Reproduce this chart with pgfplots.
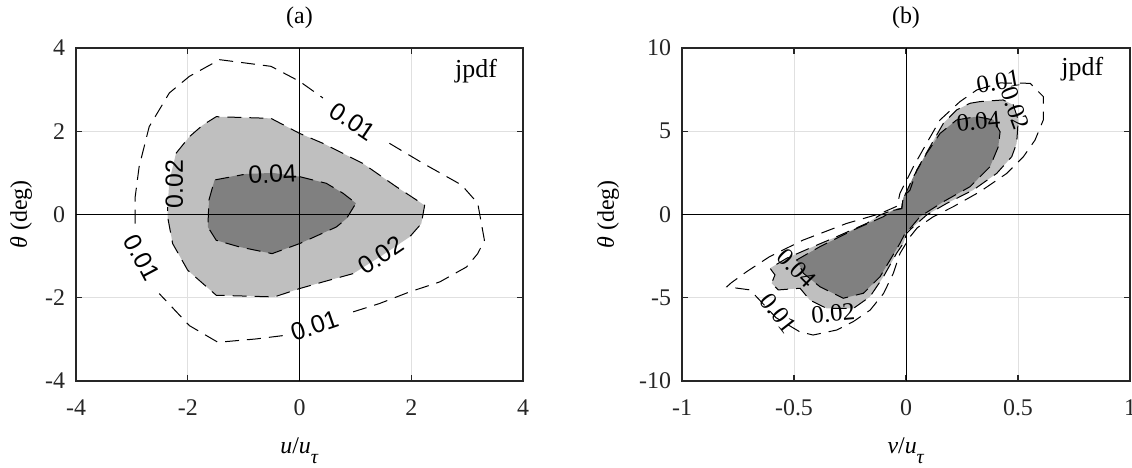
\documentclass[border=0pt]{standalone}
\usepackage{fontspec}
\setmainfont{Liberation Serif}
\newfontfamily\arial{Liberation Sans}
\usepackage{pgfplots}
\pgfplotsset{compat=1.18}
\definecolor{lightfill}{RGB}{191,191,191}
\definecolor{darkfill}{RGB}{128,128,128}
\definecolor{axcol}{RGB}{38,38,38}
\pgfplotsset{
  myax/.style={
    scale only axis, height=166.5bp,
    axis line style={axcol, line width=0.8bp},
    tick style={axcol, line width=0.6bp},
    tick align=inside, major tick length=3bp,
    grid=major, major grid style={black!12, line width=0.5bp},
    ticklabel style={font=\fontsize{12}{14}\selectfont, text=axcol},
    xticklabel style={yshift=-6bp},
    yticklabel style={xshift=-2bp},
    unbounded coords=jump,
    every axis title/.style={at={(axis description cs:0.5,1)}, anchor=center, yshift=15bp, font=\fontsize{12}{14}\selectfont},
    every axis x label/.style={at={(axis description cs:0.5,0)}, anchor=base, yshift=-36bp, font=\fontsize{12}{14}\selectfont},
    every axis y label/.style={at={(axis description cs:0,0.5)}, rotate=90, anchor=center, font=\fontsize{12}{14}\selectfont},
  },
  dsh/.style={black, line width=0.5bp, dash pattern=on 7bp off 4bp},
}
\begin{document}
\begin{tikzpicture}
\useasboundingbox (0,0) rectangle (566bp,234bp);
% ---------------- panel (a) ----------------
\begin{axis}[myax, at={(38bp,43.5bp)}, anchor=south west, width=223.5bp,
  xmin=-4, xmax=4, ymin=-4, ymax=4,
  xtick={-4,-2,0,2,4}, xticklabels={-4,-2,0,2,4},
  ytick={-4,-2,0,2,4}, yticklabels={-4,-2,0,2,4},
  title={(a)},
  xlabel={\textit{u}/\textit{u}\raisebox{-5bp}{\fontsize{10}{10}\selectfont\textit{τ}}},
  ylabel={\textit{θ} (deg)},
  y label style={yshift=27.5bp}]
\addplot[fill=lightfill, draw=none] coordinates {
(-2.21,1.47) (-1.97,1.87) (-1.73,2.15) (-1.49,2.35) (-0.51,2.31) (0,1.95) (0.42,1.71)
(1.13,1.23) (1.73,0.67) (2.24,0.22) (2.18,-0.22) (1.97,-0.54) (1.46,-1.0) (0.96,-1.42)
(0.42,-1.62) (0,-1.78) (-0.45,-1.98) (-1.49,-1.94) (-2.0,-1.34) (-2.27,-0.70)
(-2.36,-0.06) (-2.36,0.18) (-2.33,0.8)} -- cycle;
\addplot[fill=darkfill, draw=none] coordinates {
(0,0.91) (0.48,0.75) (0.78,0.51) (1.01,0.27) (0.84,-0.10) (0.66,-0.30) (0,-0.70)
(-0.49,-0.94) (-1.07,-0.78) (-1.49,-0.62) (-1.64,-0.30) (-1.62,0.35) (-1.52,0.83)
(-1.01,0.97) (-0.48,1.0)} -- cycle;
% 0.02 contour line
\addplot[dsh] coordinates {
(-2.21,1.47) (-1.97,1.87) (-1.73,2.15) (-1.49,2.35) (-0.51,2.31) (0,1.95) (0.42,1.71)
(1.13,1.23) (1.73,0.67) (2.24,0.22) (2.18,-0.22) (1.97,-0.54) (1.95,nan) (0.96,-1.42)
(0.42,-1.62) (0,-1.78) (-0.45,-1.98) (-1.49,-1.94) (-2.0,-1.34) (-2.27,-0.70)
(-2.36,-0.06) (-2.36,0.18)};
% 0.04 contour line
\addplot[dsh] coordinates {
(0,0.91) (0.48,0.75) (0.78,0.51) (1.01,0.27) (0.84,-0.10) (0.66,-0.30) (0,-0.70)
(-0.49,-0.94) (-1.07,-0.78) (-1.49,-0.62) (-1.64,-0.30) (-1.62,0.35) (-1.52,0.83)
(-1.0,0.96)};
% 0.01 contour line
\addplot[dsh] coordinates {
(1.61,1.71) (2.21,1.23) (2.90,0.71) (3.19,0.27) (3.31,-0.62) (3.19,-0.94) (2.99,-1.26)
(2.51,-1.62) (1.97,-1.86) (1.43,-2.14) (0.84,-2.39) (0.5,nan)
(-0.30,-2.91) (-0.78,-2.99) (-1.46,-3.07) (-1.97,-2.67) (-2.51,-1.90) (-2.6,nan)
(-2.94,-0.22) (-2.94,0.43) (-2.87,1.15) (-2.69,2.11) (-2.33,2.92) (-1.97,3.32)
(-1.43,3.72) (-0.51,3.56) (0,3.20) (0.42,2.80)};
% zero lines
\addplot[black, line width=0.5bp] coordinates {(0,-4) (0,4)};
\addplot[black, line width=0.5bp] coordinates {(-4,0) (4,0)};
\begin{scope}[every node/.style={font=\arial\fontsize{12.5}{14}\selectfont, inner sep=0pt}]
\node[rotate=-34] at (axis cs:0.955,2.23) {0.01};
\node[rotate=19] at (axis cs:0.269,-2.67) {0.01};
\node[rotate=-62] at (axis cs:-2.82,-1.04) {0.01};
\node[rotate=90] at (axis cs:-2.24,0.73) {0.02};
\node[rotate=34] at (axis cs:1.46,-0.98) {0.02};
\node[rotate=3] at (axis cs:-0.48,0.97) {0.04};
\end{scope}
\node[font=\fontsize{13}{15}\selectfont, inner sep=0pt] at (axis cs:3.16,3.44) {jpdf};
\end{axis}
% ---------------- panel (b) ----------------
\begin{axis}[myax, at={(341bp,43.5bp)}, anchor=south west, width=224bp,
  xmin=-1, xmax=1, ymin=-10, ymax=10,
  xtick={-1,-0.5,0,0.5,1}, xticklabels={-1,-0.5,0,0.5,1},
  ytick={-10,-5,0,5,10}, yticklabels={-10,-5,0,5,10},
  title={(b)},
  xlabel={\textit{v}/\textit{u}\raisebox{-5bp}{\fontsize{10}{10}\selectfont\textit{τ}}},
  ylabel={\textit{θ} (deg)},
  y label style={yshift=37bp}]
\addplot[fill=lightfill, draw=none] coordinates {
(0.286,6.68) (0.330,6.78) (0.434,6.88) (0.479,6.58) (0.501,5.68) (0.494,4.28) (0.472,3.47)
(0.405,2.47) (0.300,1.47) (0.182,0.67) (0.092,-0.03) (0.033,-0.73) (0.003,-1.13)
(-0.012,-1.73) (-0.042,-2.33) (-0.101,-3.74) (-0.161,-4.94) (-0.235,-5.64) (-0.354,-5.64)
(-0.429,-5.14) (-0.473,-4.43) (-0.570,-4.53) (-0.6,-4.13) (-0.585,-3.63) (-0.607,-3.23)
(-0.533,-2.63) (-0.414,-1.93) (-0.309,-1.33) (-0.175,-0.53) (-0.116,-0.03) (-0.057,0.27)
(-0.019,0.37) (-0.012,1.07) (0.018,1.47) (0.048,2.67) (0.107,4.07) (0.167,5.48) (0.226,6.28)} -- cycle;
\addplot[fill=darkfill, draw=none] coordinates {
(0.226,5.68) (0.316,5.88) (0.39,5.68) (0.420,4.97) (0.412,4.07) (0.375,2.87) (0.286,1.67)
(0.167,0.77) (0.0625,-0.13) (0.025,-0.73) (-0.004,-1.13) (-0.027,-1.73) (-0.071,-2.73)
(-0.116,-3.74) (-0.19,-4.73) (-0.280,-5.03) (-0.384,-4.34) (-0.458,-3.53) (-0.488,-2.73)
(-0.384,-1.93) (-0.235,-0.93) (-0.101,-0.13) (-0.057,0.25) (-0.019,0.35) (-0.015,0.87)
(0.033,2.27) (0.092,3.67) (0.152,4.87)} -- cycle;
% 0.02 line
\addplot[dsh] coordinates {
(0.286,6.68) (0.330,6.78) (0.434,6.88) (0.479,6.58) (0.501,5.68) (0.494,4.28) (0.472,3.47)
(0.405,2.47) (0.300,1.47) (0.182,0.67) (0.092,-0.03) (0.033,-0.73) (0.003,-1.13)
(-0.012,-1.73) (-0.042,-2.33) (-0.101,-3.74) (-0.161,-4.94) (-0.235,-5.64) (-0.354,-5.64)
(-0.429,-5.14) (-0.473,-4.43) (-0.570,-4.53) (-0.6,-4.13) (-0.585,-3.63) (-0.607,-3.23)
(-0.533,-2.63) (-0.414,-1.93) (-0.309,-1.33) (-0.175,-0.53) (-0.116,-0.03) (-0.057,0.27)
(-0.019,0.37) (-0.012,1.07) (0.018,1.47) (0.048,2.67) (0.107,4.07) (0.167,5.48) (0.226,6.28)
(0.286,6.68)};
% 0.04 line
\addplot[dsh] coordinates {
(0.226,5.68) (0.316,5.88) (0.39,5.68) (0.420,4.97) (0.412,4.07) (0.375,2.87) (0.286,1.67)
(0.167,0.77) (0.0625,-0.13) (0.025,-0.73) (-0.004,-1.13) (-0.027,-1.73) (-0.071,-2.73)
(-0.116,-3.74) (-0.19,-4.73) (-0.280,-5.03) (-0.384,-4.34) (-0.458,-3.53) (-0.488,-2.73)
(-0.384,-1.93) (-0.235,-0.93) (-0.101,-0.13) (-0.057,0.25) (-0.019,0.35) (-0.015,0.87)
(0.033,2.27) (0.092,3.67) (0.152,4.87) (0.226,5.68)};
% 0.01 line
\addplot[dsh] coordinates {
(0.316,7.48) (0.42,7.9) (0.554,7.88) (0.613,7.08) (0.613,5.68) (0.576,4.47) (0.524,3.47)
(0.45,2.47) (0.33,1.37) (0.211,0.47) (0.122,-0.13) (0.05,-0.8) (0.018,-1.34)
(-0.027,-2.34) (-0.057,-3.54) (-0.10,-4.74) (-0.16,-5.74) (-0.236,-6.44) (-0.31,-6.94)
(-0.415,-7.24) (-0.475,-7.04) (-0.58,-6.2) (-0.696,-4.53) (-0.80,-4.34) (-0.78,-4.1)
(-0.711,-3.43) (-0.61,-2.54) (-0.46,-1.54) (-0.266,-0.54) (-0.116,0.05) (-0.04,0.5)
(-0.027,1.27) (0.033,2.87) (0.092,4.28) (0.152,5.68) (0.241,6.78) (0.316,7.48)};
% zero lines
\addplot[black, line width=0.5bp] coordinates {(0,-10) (0,10)};
\addplot[black, line width=0.5bp] coordinates {(-1,0) (1,0)};
\begin{scope}[every node/.style={font=\fontsize{12.5}{14}\selectfont, inner sep=0pt}]
\node[rotate=10] at (axis cs:0.412,7.98) {0.01};
\node[rotate=-70] at (axis cs:0.487,6.38) {0.02};
\node[rotate=5] at (axis cs:0.323,5.58) {0.04};
\node[rotate=-45] at (axis cs:-0.488,-3.23) {0.04};
\node[rotate=5] at (axis cs:-0.325,-5.93) {0.02};
\node[rotate=-52] at (axis cs:-0.57,-5.93) {0.01};
\end{scope}
\node[font=\fontsize{13}{15}\selectfont, inner sep=0pt] at (axis cs:0.787,8.76) {jpdf};
\end{axis}
\end{tikzpicture}
\end{document}
